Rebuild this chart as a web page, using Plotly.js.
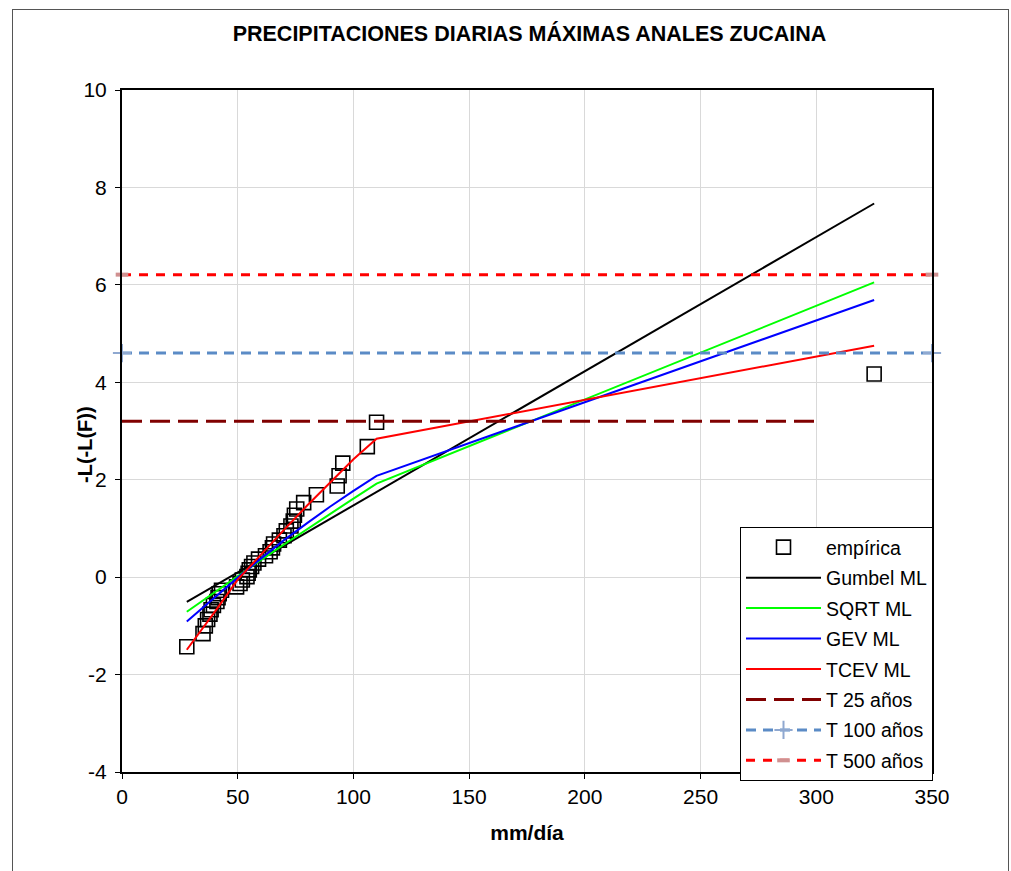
<!DOCTYPE html>
<html>
<head>
<meta charset="utf-8">
<script src="https://cdn.plot.ly/plotly-3.0.1.min.js"></script>
<style>
  html, body { margin: 0; padding: 0; background: #fff; }
  #wrap { position: relative; width: 1011px; height: 871px; }
  #chart { position: absolute; left: 0; top: 0; width: 1011px; height: 871px; }
  #frame { position: absolute; left: 12px; top: 9px; width: 995px; height: 880px;
           border: 1px solid #555; pointer-events: none; }
</style>
</head>
<body>
<div id="wrap">
  <div id="chart"></div>
  <div id="frame"></div>
</div>
<script>
// Empirical points (mm/día, -L(-L(F)))
const empX = [325, 110, 106, 95.4, 93.8, 93, 84, 78.5, 75.5, 74.5, 74, 73, 71, 70, 68, 65.5, 65, 64, 62, 59, 57, 56, 55, 54.5, 54, 52, 51, 49.5, 43, 42, 41.5, 41, 39.5, 38.5, 38, 37, 36, 35, 28];
const empY = [4.17, 3.18, 2.68, 2.34, 2.08, 1.87, 1.69, 1.53, 1.40, 1.27, 1.15, 1.05, 0.95, 0.85, 0.76, 0.68, 0.60, 0.52, 0.44, 0.37, 0.29, 0.22, 0.15, 0.08, 0.01, -0.06, -0.13, -0.20, -0.27, -0.34, -0.42, -0.50, -0.58, -0.67, -0.76, -0.87, -1.00, -1.16, -1.43];

// Fitted distributions
const curveX = [28, 40, 50, 60, 70, 80, 90, 100, 110, 325];
const gumbelY = [-0.51, -0.18, 0.10, 0.37, 0.65, 0.92, 1.20, 1.47, 1.75, 7.67];
const sqrtY   = [-0.71, -0.31, 0.02, 0.35, 0.67, 0.99, 1.30, 1.61, 1.92, 6.05];
const gevY    = [-0.91, -0.41, -0.01, 0.38, 0.76, 1.11, 1.45, 1.77, 2.08, 5.69];
const tcevY   = [-1.49, -0.72, -0.05, 0.47, 0.97, 1.47, 1.95, 2.42, 2.84, 4.75];

// Return period reference lines
const t25X = [0, 300];   const t25Y = [3.20, 3.20];
const t100X = [0, 350];  const t100Y = [4.60, 4.60];
const t500X = [0, 350];  const t500Y = [6.21, 6.21];

const xTicks = [0, 50, 100, 150, 200, 250, 300, 350];
const yTicks = [-4, -2, 0, 2, 4, 6, 8, 10];

const FONT = 'Liberation Sans, Arial, sans-serif';

const traces = [
  { x: empX, y: empY, name: 'empírica', type: 'scatter', mode: 'markers',
    marker: { symbol: 'square-open', size: 14, color: '#000', line: { width: 1.6, color: '#000' } },
    legendgroup: 'a' },
  { x: curveX, y: gumbelY, name: 'Gumbel ML', type: 'scatter', mode: 'lines',
    line: { color: '#000000', width: 2 }, legendgroup: 'b' },
  { x: curveX, y: sqrtY, name: 'SQRT ML', type: 'scatter', mode: 'lines',
    line: { color: '#00ff00', width: 2 }, legendgroup: 'c' },
  { x: curveX, y: gevY, name: 'GEV ML', type: 'scatter', mode: 'lines',
    line: { color: '#0000ff', width: 2 }, legendgroup: 'd' },
  { x: curveX, y: tcevY, name: 'TCEV ML', type: 'scatter', mode: 'lines',
    line: { color: '#ff0000', width: 2 }, legendgroup: 'e' },
  { x: t25X, y: t25Y, name: 'T 25 años', type: 'scatter', mode: 'lines',
    line: { color: '#800000', width: 3, dash: '20px,8px' }, legendgroup: 'f' },
  { x: t100X, y: t100Y, name: 'T 100 años', type: 'scatter', mode: 'lines+markers',
    line: { color: '#5b8bc6', width: 3, dash: '10px,7px' },
    marker: { symbol: 'cross-thin-open', size: 13, color: '#8fa8d0', line: { width: 2, color: '#8fa8d0' } },
    cliponaxis: false, legendgroup: 'g' },
  { x: t500X, y: t500Y, name: 'T 500 años', type: 'scatter', mode: 'lines+markers',
    line: { color: '#ff0000', width: 3, dash: '9px,8px' },
    marker: { symbol: 'line-ew-open', size: 9, color: '#d09090', line: { width: 4, color: ['#5b8bc6', '#d09090'] } },
    cliponaxis: false, legendgroup: 'h' }
];

const layout = {
  width: 1011, height: 871,
  margin: { l: 122, r: 79, t: 90, b: 99 },
  paper_bgcolor: '#ffffff', plot_bgcolor: '#ffffff',
  font: { family: FONT, size: 20, color: '#000' },
  title: { text: '<b>PRECIPITACIONES DIARIAS MÁXIMAS ANALES ZUCAINA</b>',
           font: { family: FONT, size: 21.5, color: '#000' },
           x: 529.5 / 1011, xanchor: 'center', y: 1 - 33 / 871, yanchor: 'middle', xref: 'container', yref: 'container' },
  xaxis: {
    range: [0, 350], tickvals: xTicks, ticktext: xTicks.map(String),
    showgrid: true, gridcolor: '#d9d9d9', gridwidth: 1,
    showline: true, linecolor: '#000', linewidth: 2, mirror: true,
    ticks: 'outside', ticklen: 5, tickcolor: '#000', tickwidth: 1,
    zeroline: false, tickfont: { family: FONT, size: 21 },
    title: { text: '<b>mm/día</b>', font: { family: FONT, size: 21 }, standoff: 18 }
  },
  yaxis: {
    range: [-4, 10], tickvals: yTicks, ticktext: yTicks.map(String),
    showgrid: true, gridcolor: '#d9d9d9', gridwidth: 1,
    showline: true, linecolor: '#000', linewidth: 2, mirror: true,
    ticks: 'outside', ticklen: 5, tickcolor: '#000', tickwidth: 1,
    ticklabelstandoff: 4,
    zeroline: false, tickfont: { family: FONT, size: 21 }
  },
  annotations: [{
    text: '<b>-L(-L(F))</b>', textangle: -90, showarrow: false,
    xref: 'paper', yref: 'paper', x: (85 - 122) / 810, y: (772 - 445) / 682,
    xanchor: 'center', yanchor: 'middle', font: { family: FONT, size: 20, color: '#000' }
  }],
  showlegend: true,
  legend: {
    x: (740 - 122) / 810, y: (772 - 527) / 682, xanchor: 'left', yanchor: 'top',
    bgcolor: '#ffffff', bordercolor: '#000', borderwidth: 1,
    font: { family: FONT, size: 19.5, color: '#000' },
    traceorder: 'grouped', tracegroupgap: 2.1, itemwidth: 75
  }
};

Plotly.newPlot('chart', traces, layout, { displayModeBar: false, staticPlot: true });
</script>
</body>
</html>
